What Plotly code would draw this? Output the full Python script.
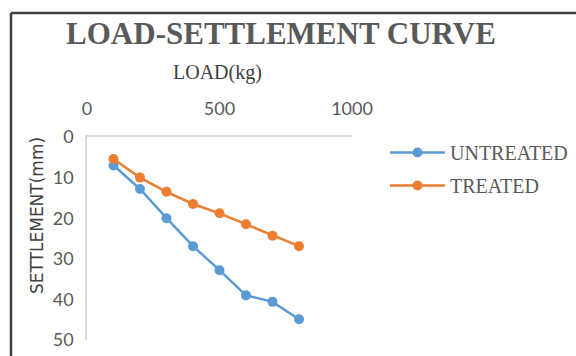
import plotly.graph_objects as go

# Load applied (kg) and measured settlement (mm)
load_kg = [100, 200, 300, 400, 500, 600, 700, 800]
untreated_mm = [7, 12.8, 20, 26.9, 32.8, 39, 40.6, 44.9]
treated_mm = [5.4, 10, 13.5, 16.5, 18.8, 21.5, 24.3, 26.9]

x_ticks = [0, 500, 1000]
y_ticks = [0, 10, 20, 30, 40, 50]

BLUE = "#5B9BD5"
ORANGE = "#ED7D31"
GREY_TEXT = "#595959"
AXIS_LINE = "#D9D9D9"
SERIF = "Liberation Serif, Times New Roman, serif"
SANS = "Lato, Calibri, sans-serif"

fig = go.Figure()
fig.add_trace(go.Scatter(
    x=load_kg, y=untreated_mm, name="UNTREATED", mode="lines+markers",
    legendgroup="u",
    line=dict(color=BLUE, width=2.5), marker=dict(color=BLUE, size=10),
))
fig.add_trace(go.Scatter(
    x=load_kg, y=treated_mm, name="TREATED", mode="lines+markers",
    legendgroup="t",
    line=dict(color=ORANGE, width=2.5), marker=dict(color=ORANGE, size=10),
))

W, H = 576, 356
L, R, T, B = 87, 224, 137, 16
pw, ph = W - L - R, H - T - B


def px_x(p):
    return (p - L) / pw


def px_y(p):
    return (H - B - p) / ph


fig.update_layout(
    width=W, height=H,
    margin=dict(l=L, r=R, t=T, b=B, autoexpand=False),
    paper_bgcolor="white", plot_bgcolor="white",
    showlegend=True,
    legend=dict(
        x=px_x(385), y=px_y(133), xanchor="left", yanchor="top",
        font=dict(family=SERIF, size=20, color=GREY_TEXT),
        itemwidth=55, tracegroupgap=4, traceorder="grouped",
        bgcolor="rgba(0,0,0,0)",
    ),
    title=dict(
        text="LOAD-SETTLEMENT CURVE", xref="container", yref="container",
        x=281 / W, y=1 - 33 / H, xanchor="center", yanchor="middle",
        font=dict(family=SERIF, size=31, color=GREY_TEXT, weight="bold"),
    ),
    xaxis=dict(
        range=[0, 1000], side="top", tickvals=x_ticks, showgrid=False,
        zeroline=False, showline=True, linecolor=AXIS_LINE, linewidth=1.5,
        ticks="", tickfont=dict(family=SANS, size=18, color=GREY_TEXT),
        ticklabelstandoff=13, automargin=False,
    ),
    yaxis=dict(
        range=[50, 0], tickvals=y_ticks, showgrid=False, zeroline=False,
        showline=True, linecolor=AXIS_LINE, linewidth=1.5, ticks="",
        tickfont=dict(family=SANS, size=18, color=GREY_TEXT),
        ticklabelstandoff=8, automargin=False,
    ),
    annotations=[
        dict(text="LOAD(kg)", xref="paper", yref="paper",
             x=px_x(217), y=px_y(72), xanchor="center", yanchor="middle",
             showarrow=False,
             font=dict(family=SERIF, size=20, color="#404040")),
        dict(text="SETTLEMENT(mm)", xref="paper", yref="paper",
             x=px_x(37), y=px_y(215), xanchor="center", yanchor="middle",
             textangle=-90, showarrow=False,
             font=dict(family="DejaVu Sans, sans-serif", size=17,
                       color="#404040")),
    ],
    shapes=[
        dict(type="line", xref="paper", yref="paper",
             x0=px_x(11), x1=px_x(W + 5), y0=px_y(13), y1=px_y(13),
             line=dict(color="#404040", width=2.5)),
        dict(type="line", xref="paper", yref="paper",
             x0=px_x(11), x1=px_x(11), y0=px_y(13), y1=px_y(H + 5),
             line=dict(color="#404040", width=2.5)),
    ],
)

fig.write_html("out.html")
